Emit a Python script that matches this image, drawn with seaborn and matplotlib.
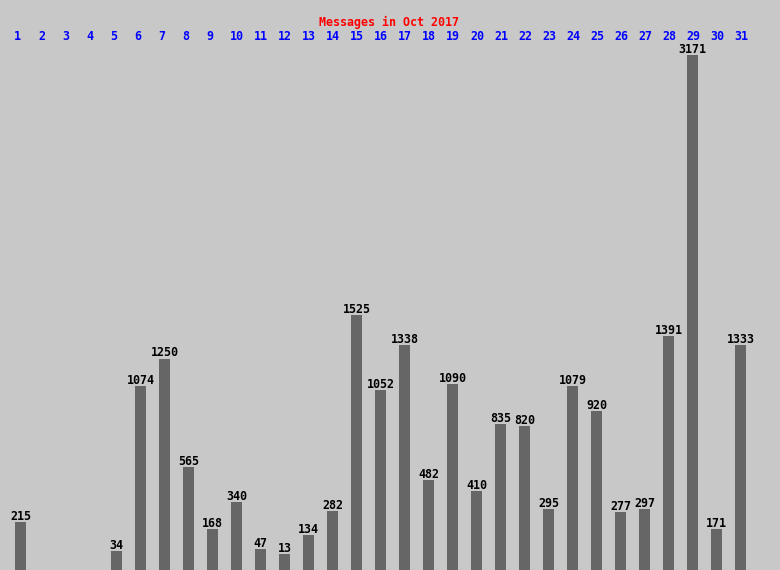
import matplotlib
matplotlib.use("Agg")
import matplotlib.pyplot as plt
import seaborn as sns
import pandas as pd
from matplotlib.transforms import blended_transform_factory

days = [str(d) for d in range(1, 32)]
messages = [215, 0, 0, 0, 34, 1074, 1250, 565, 168, 340,
            47, 13, 134, 282, 1525, 1052, 1338, 482, 1090, 410,
            835, 820, 295, 1079, 920, 277, 297, 1391, 3171, 171, 1333]
title = "Messages in Oct 2017"

BG = "#c8c8c8"
BAR = "#666666"
FONT = "DejaVu Sans Mono"
FS = 8.4

df = pd.DataFrame({"day": days, "messages": messages})

sns.set_theme(style="white")
plt.rcParams["font.family"] = [FONT]

fig = plt.figure(figsize=(7.8, 5.7), dpi=100, facecolor=BG)
ax = fig.add_axes([0, 0, 1, 1])
ax.set_facecolor(BG)

bw = 11 / 24
sns.barplot(data=df, x="day", y="messages", color=BAR, width=bw,
            saturation=1, ax=ax, linewidth=0, errorbar=None)

y_lo = -14 / 0.158
y_hi = 556 / 0.158
for p, v in zip(ax.patches, messages):
    if v <= 0:
        p.set_visible(False)
        continue
    p.set_y(y_lo)
    p.set_height(v - y_lo)
    p.set_facecolor(BAR)
    p.set_edgecolor("none")

ax.set_xlim(-20.5 / 24, (780 - 20.5) / 24)
ax.set_ylim(y_lo, y_hi)
ax.axis("off")

for i, v in enumerate(messages):
    if v > 0:
        ax.annotate(str(v), xy=(i, v), xytext=(0, 2 * 72 / 100),
                    textcoords="offset points", ha="center", va="baseline",
                    fontsize=FS, fontweight="bold", color="black", family=FONT)

trans = blended_transform_factory(ax.transData, fig.transFigure)
for i, d in enumerate(days):
    ax.text(i - bw / 2 - 1 / 24, 1 - 37 / 570, d, transform=trans,
            ha="left", va="center", fontsize=FS, fontweight="bold",
            color="#0000ff", family=FONT)

fig.text(389 / 780, 1 - 22 / 570, title, ha="center", va="center",
         fontsize=FS, fontweight="bold", color="#ff0000", family=FONT)

fig.savefig("out.png", dpi=100, facecolor=BG)
